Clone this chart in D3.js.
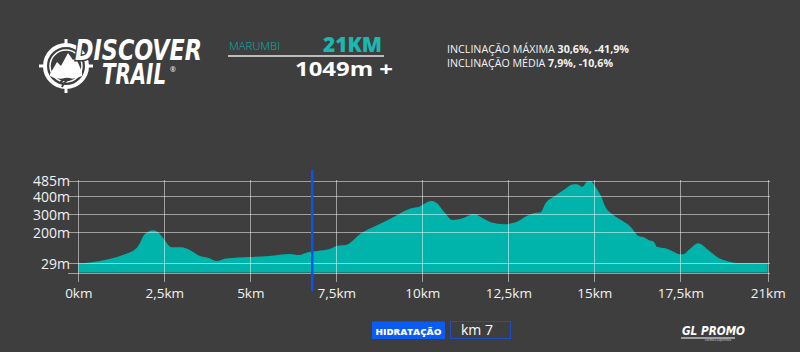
<!DOCTYPE html>
<html><head><meta charset="utf-8">
<script src="https://cdn.jsdelivr.net/npm/d3@7/dist/d3.min.js"></script>
<style>
html,body{margin:0;padding:0;background:#3e3e3e;}
svg{display:block;}
</style></head>
<body>
<script>
// ---- data ----
const distanceKm = [0,0.39,0.87,1.35,1.69,1.79,1.89,2.03,2.18,2.32,2.47,2.71,3.00,3.24,3.53,3.77,4.01,4.30,4.98,5.56,6.14,6.42,6.67,6.96,7.30,7.54,7.78,8.22,8.70,9.18,9.67,9.91,10.25,10.39,10.63,10.88,11.17,11.50,11.80,11.99,12.38,12.71,13.05,13.24,13.44,13.58,13.82,14.11,14.40,14.50,14.65,14.79,14.89,15.03,15.18,15.32,15.56,15.85,16.05,16.29,16.44,16.58,16.73,16.82,17.07,17.26,17.49,17.62,17.88,18.22,18.62,19.02,19.36,19.76,21];
const elevationM = [29,35,51,79,112,140,180,204,212,201,168,118,118,103,70,60,42,56,64,70,81,75,90,97,108,126,130,195,241,287,334,343,374,367,315,269,278,302,274,256,245,256,293,306,312,361,398,435,467,467,453,481,485,453,407,343,297,260,232,180,173,158,149,121,112,97,79,79,108,140,103,60,42,31,30];
const xTickValues = [0,2.5,5,7.5,10,12.5,15,17.5,21];
const yTickValues = [29,200,300,400,485];
const hydrationKm = 6.8;
const hydrationLabel = "km 7";
const raceName = "MARUMBI";
const raceDistance = "21KM";
const elevationGain = "1049m +";
const inclineMax = ["30,6%", "-41,9%"];
const inclineAvg = ["7,9%", "-10,6%"];

const W = 800, H = 352;
const FONT = "'Open Sans', 'Noto Sans', sans-serif";
const TEAL = "#00b4ac";
const svg = d3.select("body").append("svg").attr("width", W).attr("height", H);
svg.append("rect").attr("width", W).attr("height", H).attr("fill", "#3e3e3e");

const x = d3.scaleLinear().domain([0, 17.5, 21]).range([78.3, 680.3, 767.7]);
const y = d3.scaleLinear().domain([-22, 485]).range([272.5, 181]);
const data = distanceKm.map((k, i) => ({km: k, m: elevationM[i]}));

// area
const area = d3.area().x(d => x(d.km)).y0(y(-22)).y1(d => y(d.m)).curve(d3.curveMonotoneX);
svg.append("path").datum(data).attr("d", area).attr("fill", TEAL);

// gridlines
const grid = svg.append("g").attr("stroke", "rgba(255,255,255,0.5)").attr("stroke-width", 1);
yTickValues.concat([-22]).forEach(v => {
  grid.append("line").attr("x1", 68).attr("x2", 770)
    .attr("y1", Math.round(y(v)) + 0.5).attr("y2", Math.round(y(v)) + 0.5);
});
xTickValues.forEach(v => {
  grid.append("line").attr("x1", Math.round(x(v)) + 0.5).attr("x2", Math.round(x(v)) + 0.5)
    .attr("y1", 180).attr("y2", 282);
});

// axes labels
const yAxis = d3.axisLeft(y).tickValues(yTickValues).tickSize(0).tickPadding(0).tickFormat(d => d + "m");
const yg = svg.append("g").attr("transform", "translate(70,0)").call(yAxis);
yg.select(".domain").remove();
yg.selectAll("text").attr("fill", "#f2f2f2").style("font-family", FONT).style("font-size", "14px").attr("dy", "0.35em");

const fmt = d => String(d).replace(".", ",") + "km";
const xAxis = d3.axisBottom(x).tickValues(xTickValues).tickSize(0).tickPadding(0).tickFormat(fmt);
const xg = svg.append("g").attr("transform", "translate(0,289)").call(xAxis);
xg.select(".domain").remove();
xg.selectAll("text").attr("fill", "#f2f2f2").style("font-family", FONT).style("font-size", "13.5px").attr("dy", "0.7em");

// hydration marker
svg.append("line").attr("x1", x(hydrationKm)).attr("x2", x(hydrationKm)).attr("y1", 170).attr("y2", 291)
  .attr("stroke", "#0a52f5").attr("stroke-width", 2.5);

// ---- header ----
// emblem
const em = svg.append("g").attr("transform", "translate(66,66)");
em.append("circle").attr("r", 21).attr("fill", "none").attr("stroke", "#fff").attr("stroke-width", 4);
em.append("circle").attr("r", 16).attr("fill", "none").attr("stroke", "#fff").attr("stroke-width", 1.5);
[[0,-27,0,-19],[0,19,0,27],[-27,0,-19,0],[19,0,27,0]].forEach(s =>
  em.append("line").attr("x1", s[0]).attr("y1", s[1]).attr("x2", s[2]).attr("y2", s[3]).attr("stroke", "#fff").attr("stroke-width", 3));
em.append("path").attr("d", "M-16,8 L-9,-4 L-5,0 L2,-13 L7,-6 L10,-8 L16,6 L16,10 Q8,14 0,12 Q-10,14 -16,10 Z").attr("fill", "#fff");
em.append("path").attr("d", "M-6,17 Q-2,12 3,13 Q-2,16 -4,21").attr("fill", "none").attr("stroke", "#3e3e3e").attr("stroke-width", 2);

const logoFont = "'DejaVu Sans Condensed', 'DejaVu Sans', sans-serif";
svg.append("text").attr("x", 75).attr("y", 60).text("DISCOVER")
  .attr("fill", "#fff").attr("stroke", "#3e3e3e").attr("stroke-width", 3).attr("paint-order", "stroke")
  .style("font-family", logoFont).style("font-weight", "bold").style("font-style", "italic")
  .style("font-size", "29px").attr("textLength", 127).attr("lengthAdjust", "spacingAndGlyphs");
svg.append("text").attr("x", 102).attr("y", 84).text("TRAIL")
  .attr("fill", "#fff").attr("stroke", "#3e3e3e").attr("stroke-width", 3).attr("paint-order", "stroke")
  .style("font-family", logoFont).style("font-weight", "bold").style("font-style", "italic")
  .style("font-size", "29px").attr("textLength", 64).attr("lengthAdjust", "spacingAndGlyphs");
svg.append("text").attr("x", 170).attr("y", 72).text("®").attr("fill", "#fff")
  .style("font-family", FONT).style("font-size", "7px");

// race info
svg.append("text").attr("x", 229).attr("y", 50).text(raceName).attr("fill", TEAL)
  .style("font-family", FONT).style("font-weight", 300).style("font-size", "10px")
  .attr("textLength", 51).attr("lengthAdjust", "spacingAndGlyphs");
svg.append("text").attr("x", 382).attr("y", 52).attr("text-anchor", "end").text(raceDistance).attr("fill", "#1ab8b0")
  .style("font-family", FONT).style("font-weight", 800).style("font-size", "21px")
  .attr("textLength", 59).attr("lengthAdjust", "spacingAndGlyphs");
svg.append("line").attr("x1", 228).attr("x2", 384).attr("y1", 56).attr("y2", 56).attr("stroke", "#e6e6e6").attr("stroke-width", 1.5);
svg.append("text").attr("x", 295).attr("y", 76).text(elevationGain).attr("fill", "#fff")
  .style("font-family", FONT).style("font-weight", 700).style("font-size", "20px")
  .attr("textLength", 98).attr("lengthAdjust", "spacingAndGlyphs");

const inc1 = svg.append("text").attr("x", 447).attr("y", 53).attr("fill", "#f2f2f2")
  .style("font-family", FONT).style("font-size", "10.5px")
  .attr("textLength", 182).attr("lengthAdjust", "spacingAndGlyphs");
inc1.append("tspan").text("INCLINAÇÃO MÁXIMA ");
inc1.append("tspan").style("font-weight", 700).text(inclineMax.join(", "));
const inc2 = svg.append("text").attr("x", 447).attr("y", 67).attr("fill", "#f2f2f2")
  .style("font-family", FONT).style("font-size", "10.5px")
  .attr("textLength", 166).attr("lengthAdjust", "spacingAndGlyphs");
inc2.append("tspan").text("INCLINAÇÃO MÉDIA ");
inc2.append("tspan").style("font-weight", 700).text(inclineAvg.join(", "));

// ---- footer ----
svg.append("rect").attr("x", 372).attr("y", 321.5).attr("width", 73).attr("height", 17.5).attr("fill", "#0b5cf2");
svg.append("text").attr("x", 408.5).attr("y", 334.5).attr("text-anchor", "middle").text("HIDRATAÇÃO").attr("fill", "#fff")
  .style("font-family", FONT).style("font-weight", 800).style("font-size", "9.5px")
  .attr("textLength", 66).attr("lengthAdjust", "spacingAndGlyphs");
svg.append("rect").attr("x", 450.5).attr("y", 321.5).attr("width", 60).attr("height", 17).attr("fill", "none")
  .attr("stroke", "#1a4fc8").attr("stroke-width", 1);
svg.append("text").attr("x", 461).attr("y", 335).text(hydrationLabel).attr("fill", "#fff")
  .style("font-family", FONT).style("font-size", "14px");

// GL PROMO logo
svg.append("text").attr("x", 682).attr("y", 335).text("GL PROMO").attr("fill", "#fff")
  .style("font-family", logoFont).style("font-weight", "bold").style("font-style", "italic").style("font-size", "12px")
  .attr("textLength", 63).attr("lengthAdjust", "spacingAndGlyphs");
svg.append("line").attr("x1", 681).attr("x2", 735).attr("y1", 338).attr("y2", 338).attr("stroke", "#fff").attr("stroke-width", 1);
svg.append("text").attr("x", 718).attr("y", 341).attr("text-anchor", "middle").text("eventos esportivos").attr("fill", "#ddd")
  .style("font-family", FONT).style("font-size", "3px");
</script>
</body></html>
